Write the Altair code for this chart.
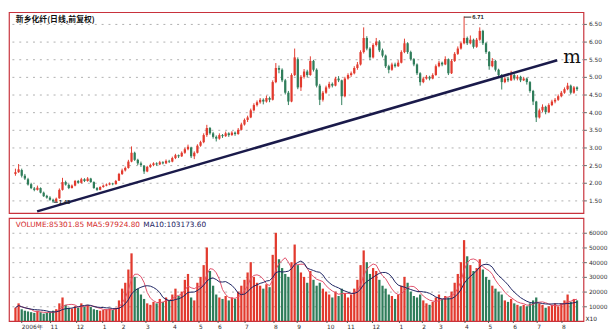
import altair as alt
import pandas as pd

# ---------------- data ----------------
opens = [2.25,2.30,2.36,2.20,2.10,1.96,1.84,1.80,1.85,1.72,1.63,1.58,1.52,1.47,1.56,1.80,2.02,1.94,1.85,1.92,
         2.05,2.00,2.10,2.05,2.12,2.02,1.85,1.80,1.88,1.92,1.95,1.98,1.96,2.06,2.25,2.35,2.42,2.60,2.85,2.65,
         2.55,2.48,2.32,2.45,2.50,2.55,2.52,2.58,2.55,2.62,2.60,2.70,2.78,2.75,2.85,2.95,3.00,2.75,2.85,3.05,
         3.15,3.35,3.55,3.40,3.30,3.25,3.35,3.32,3.40,3.35,3.42,3.38,3.50,3.65,3.78,3.85,4.05,4.20,4.28,4.35,
         4.30,4.40,4.35,4.85,5.25,5.20,4.90,4.55,4.30,5.05,5.50,4.70,5.00,5.15,5.05,5.45,5.20,4.75,4.35,4.55,
         4.70,4.80,4.75,4.95,4.90,4.45,4.95,5.05,5.10,5.25,5.35,5.70,6.10,5.80,5.55,5.90,6.00,5.75,5.60,5.30,
         5.20,5.35,5.30,5.40,5.70,5.95,5.70,5.50,5.35,5.10,4.85,4.95,5.00,4.95,5.05,5.30,5.40,5.35,5.50,5.10,
         5.45,5.65,5.80,5.95,6.10,5.95,6.05,5.85,6.05,6.30,5.95,5.70,5.30,5.45,5.20,5.05,4.85,4.95,4.90,5.05,
         4.95,5.00,4.90,4.95,4.85,4.60,4.30,3.85,4.05,4.15,4.00,4.20,4.30,4.35,4.45,4.55,4.65,4.75,4.55,4.70]
highs = [2.40,2.53,2.40,2.25,2.14,2.00,1.88,1.92,1.87,1.75,1.66,1.62,1.55,1.58,1.84,2.14,2.06,1.97,1.95,2.08,
         2.08,2.14,2.13,2.16,2.14,2.04,1.88,1.90,1.95,1.98,2.01,2.00,2.08,2.28,2.40,2.46,2.65,3.03,2.88,2.68,
         2.60,2.50,2.48,2.54,2.58,2.58,2.62,2.61,2.66,2.65,2.74,2.82,2.80,2.89,2.99,3.08,3.02,2.89,3.09,3.19,
         3.40,3.64,3.58,3.44,3.34,3.40,3.38,3.45,3.43,3.46,3.45,3.55,3.70,3.82,3.90,4.10,4.25,4.33,4.40,4.39,
         4.47,4.44,4.90,5.39,5.32,5.24,4.94,4.60,5.10,5.80,5.55,5.05,5.22,5.20,5.58,5.48,5.24,4.80,4.60,4.75,
         4.86,4.84,5.00,5.02,4.92,5.00,5.10,5.15,5.30,5.42,5.75,6.40,6.15,5.84,5.95,6.10,6.04,5.80,5.63,5.34,
         5.40,5.40,5.47,5.75,6.08,5.98,5.74,5.53,5.38,5.13,5.00,5.05,5.03,5.10,5.35,5.45,5.43,5.58,5.52,5.50,
         5.70,5.86,6.00,6.71,6.14,6.17,6.08,6.10,6.40,6.33,5.98,5.73,5.53,5.48,5.23,5.08,5.00,5.00,5.17,5.08,
         5.05,5.03,5.00,4.98,4.88,4.63,4.32,4.10,4.22,4.18,4.25,4.35,4.40,4.50,4.60,4.70,4.83,4.78,4.74,4.73]
lows = [2.20,2.28,2.15,2.08,1.92,1.82,1.76,1.78,1.70,1.60,1.55,1.49,1.43,1.46,1.55,1.78,1.92,1.82,1.84,1.90,
        1.97,1.98,2.02,2.03,2.00,1.83,1.77,1.79,1.86,1.90,1.93,1.93,1.95,2.05,2.22,2.32,2.40,2.58,2.62,2.50,
        2.45,2.25,2.30,2.42,2.47,2.48,2.50,2.52,2.53,2.56,2.58,2.67,2.70,2.73,2.82,2.92,2.70,2.67,2.83,3.02,
        3.12,3.30,3.36,3.25,3.17,3.22,3.27,3.30,3.30,3.33,3.33,3.36,3.48,3.62,3.72,3.83,4.02,4.16,4.24,4.22,
        4.27,4.28,4.33,4.82,5.10,4.85,4.50,4.20,4.28,5.02,4.65,4.60,4.95,4.98,5.03,5.15,4.70,4.20,4.30,4.52,
        4.66,4.70,4.73,4.85,4.20,4.42,4.92,5.00,5.07,5.20,5.32,5.66,5.75,5.47,5.52,5.86,5.70,5.55,5.25,5.10,
        5.17,5.26,5.28,5.38,5.67,5.65,5.46,5.30,5.05,4.75,4.82,4.92,4.90,4.93,5.03,5.27,5.30,5.33,5.05,5.08,
        5.42,5.62,5.77,5.92,5.90,5.92,5.80,5.82,6.02,5.90,5.65,5.20,5.27,5.15,5.00,4.64,4.82,4.85,4.88,4.90,
        4.90,4.85,4.88,4.78,4.55,4.20,3.72,3.82,4.00,3.94,3.98,4.17,4.25,4.32,4.42,4.52,4.62,4.50,4.52,4.60]
closes = [2.30,2.38,2.20,2.12,1.95,1.85,1.80,1.86,1.72,1.62,1.58,1.52,1.47,1.55,1.80,2.02,1.95,1.85,1.92,2.05,
          2.00,2.10,2.05,2.12,2.02,1.85,1.80,1.88,1.92,1.95,1.98,1.96,2.05,2.25,2.35,2.42,2.60,2.85,2.65,2.55,
          2.50,2.32,2.45,2.50,2.55,2.52,2.58,2.55,2.62,2.60,2.70,2.78,2.75,2.85,2.95,3.02,2.75,2.85,3.05,3.15,
          3.35,3.55,3.40,3.30,3.25,3.35,3.32,3.40,3.35,3.42,3.38,3.50,3.65,3.78,3.85,4.05,4.20,4.28,4.35,4.30,
          4.40,4.35,4.85,5.25,5.20,4.90,4.55,4.30,5.05,5.55,4.70,5.00,5.15,5.05,5.45,5.20,4.75,4.35,4.55,4.70,
          4.80,4.75,4.95,4.90,4.45,4.95,5.05,5.10,5.25,5.35,5.70,6.10,5.80,5.55,5.90,6.00,5.75,5.60,5.30,5.20,
          5.35,5.30,5.40,5.70,5.95,5.70,5.50,5.35,5.10,4.85,4.95,5.00,4.95,5.05,5.30,5.40,5.35,5.50,5.10,5.45,
          5.65,5.80,5.95,6.10,5.95,6.05,5.85,6.05,6.30,5.95,5.70,5.30,5.45,5.20,5.05,4.85,4.95,4.90,5.05,4.95,
          5.00,4.90,4.95,4.85,4.60,4.30,3.85,4.05,4.15,4.00,4.20,4.30,4.35,4.45,4.55,4.65,4.75,4.55,4.70,4.65]
volumes = [9000,12000,8000,7000,6500,6000,5500,7000,6000,5000,
           5500,6000,7000,8000,12000,16000,11000,9000,8500,10000,
           9000,12000,10000,11000,9500,8000,7500,7000,7500,8000,
           8500,7500,9000,14000,22000,26000,35000,46000,30000,22000,
           18000,15000,12000,11000,13000,12000,15000,13000,16000,14000,
           18000,22000,17000,20000,28000,32000,16000,14000,26000,30000,
           38000,50000,34000,24000,18000,16000,15000,17000,14000,16000,
           15000,20000,24000,28000,33000,40000,30000,26000,24000,22000,
           25000,23000,45000,60000,42000,36000,32000,30000,40000,52000,
           38000,33000,30000,26000,34000,28000,24000,26000,22000,20000,
           18000,16000,20000,17000,22000,19000,16000,18000,22000,28000,
           38000,48000,40000,32000,36000,34000,28000,24000,22000,18000,
           17000,15000,18000,24000,30000,26000,20000,17000,16000,18000,
           14000,12000,11000,13000,16000,18000,15000,17000,16000,20000,
           26000,32000,40000,55000,44000,38000,34000,36000,42000,35000,
           30000,28000,24000,22000,20000,18000,14000,13000,15000,12000,
           11000,10000,11000,10000,12000,14000,16000,12000,11000,9000,
           10000,11000,12000,10000,12000,14000,18000,13000,15000,14000]

month_pos = [2.0, 11.2, 19.5, 27.8, 33.9, 41.6, 50.2, 58.5, 64.6, 73.2, 82.4, 89.8,
             99.3, 105.8, 113.8, 122.4, 129.7, 135.0, 143.3, 150.8, 158.7, 166.3, 174.2]
month_lbl = ["2006年", "11", "12", "1", "2", "3", "4", "5", "6", "7", "8", "9",
             "10", "11", "12", "1", "2", "3", "4", "5", "6", "7", "8"]

price_ticks = [1.5, 2.0, 2.5, 3.0, 3.5, 4.0, 4.5, 5.0, 5.5, 6.0, 6.5]
vol_ticks = [10000, 20000, 30000, 40000, 50000, 60000]

trend_i = [6.9, 172.7]
trend_p = [1.19, 5.47]

title_txt = "新乡化纤(日线,前复权)"
vol_legend = ["VOLUME:85301.85", "MA5:97924.80", "MA10:103173.60"]
vol_legend_x = [7, 79, 137]
vol_legend_col = ["#d42a2a", "#d42a2a", "#1c2260"]

# ---------------- chart ----------------
RED = "#e23a2e"
GREEN = "#2f7d5a"
FRAME = "#c8323c"
N = len(closes)
W, HP, HV = 586, 205, 105

df = pd.DataFrame({"i": list(range(N)), "o": opens, "h": highs, "l": lows, "c": closes, "v": volumes})

xs = alt.Scale(domain=[-0.5, N - 0.5], nice=False, zero=False)
ys = alt.Scale(domain=[1.14, 6.83], nice=False, zero=False)
vs = alt.Scale(domain=[0, 70000], nice=False, zero=False)
col = alt.condition("datum.c >= datum.o", alt.value(RED), alt.value(GREEN))


def raxis(vals, fmt):
    return alt.Axis(orient="right", values=vals, format=fmt, title=None,
                    labelFontSize=6, labelFont="DejaVu Sans", labelColor="#333",
                    labelOverlap=False, labelBound=False, labelFlush=False,
                    tickSize=3, tickColor="#666", labelPadding=2, domain=False,
                    grid=True, gridDash=[2, 5], gridColor="#9a9a9a", gridWidth=0.8)


PAX = raxis(price_ticks, ".2f")
VAX = raxis(vol_ticks, "d")
NOX = alt.Axis(labels=False, ticks=False, domain=False, grid=False, title=None)

base = alt.Chart(df).encode(x=alt.X("i:Q", scale=xs, axis=NOX))
wick = base.mark_rule(strokeWidth=1).encode(
    y=alt.Y("l:Q", scale=ys, axis=PAX), y2="h:Q", color=col)
body = base.mark_bar(width=2.3).encode(y=alt.Y("o:Q", scale=ys, axis=PAX), y2="c:Q", color=col)

tdf = pd.DataFrame({"i": trend_i, "p": trend_p})
trend = alt.Chart(tdf).mark_line(color="#1a1a4a", strokeWidth=2.6).encode(
    x=alt.X("i:Q", scale=xs, axis=NOX), y=alt.Y("p:Q", scale=ys, axis=PAX))

m_lbl = alt.Chart(pd.DataFrame({"i": [174.6], "p": [5.55], "t": ["m"]})).mark_text(
    align="left", baseline="middle", fontSize=19, font="DejaVu Serif", color="#111").encode(
    x=alt.X("i:Q", scale=xs, axis=NOX), y=alt.Y("p:Q", scale=ys, axis=PAX), text="t:N")

hi_df = pd.DataFrame({"i": [143.0], "i2": [145.3], "p": [6.69], "t": ["6.71"]})
hi_line = alt.Chart(hi_df).mark_rule(color="#222", strokeWidth=1).encode(
    x=alt.X("i:Q", scale=xs, axis=NOX), x2="i2:Q", y=alt.Y("p:Q", scale=ys, axis=PAX))
hi_txt = alt.Chart(hi_df).mark_text(align="left", baseline="middle", fontSize=6,
                                    fontWeight="bold", dx=1, color="#222").encode(
    x=alt.X("i2:Q", scale=xs, axis=NOX), y=alt.Y("p:Q", scale=ys, axis=PAX), text="t:N")

lo_df = pd.DataFrame({"i": [12.3], "i2": [13.5], "p": [1.45], "t": ["1.43"]})
lo_line = alt.Chart(lo_df).mark_rule(color="#222", strokeWidth=1).encode(
    x=alt.X("i:Q", scale=xs, axis=NOX), x2="i2:Q", y=alt.Y("p:Q", scale=ys, axis=PAX))
lo_txt = alt.Chart(lo_df).mark_text(align="left", baseline="middle", fontSize=6,
                                    fontWeight="bold", dx=1, color="#222").encode(
    x=alt.X("i2:Q", scale=xs, axis=NOX), y=alt.Y("p:Q", scale=ys, axis=PAX), text="t:N")

title = alt.Chart(pd.DataFrame({"t": [title_txt]})).mark_text(
    align="left", baseline="middle", fontSize=8, fontWeight="bold",
    font="Noto Sans CJK SC", color="#111").encode(
    x=alt.value(7), y=alt.value(8), text="t:N")

price = alt.layer(wick, body, trend, m_lbl, hi_line, hi_txt, lo_line, lo_txt, title).properties(
    width=W, height=HP)

# volume panel
vbase = alt.Chart(df).encode(x=alt.X("i:Q", scale=xs, axis=NOX))
vbars = vbase.mark_bar(width=2.3).encode(
    y=alt.Y("v:Q", scale=vs, axis=VAX), y2=alt.datum(0), color=col)
ma = vbase.transform_window(
    ma5="mean(v)", frame=[-4, 0]).transform_window(
    ma10="mean(v)", frame=[-9, 0])
ma5 = ma.mark_line(color="#e0506a", strokeWidth=1).encode(y=alt.Y("ma5:Q", scale=vs, axis=VAX))
ma10 = ma.mark_line(color="#1c2260", strokeWidth=1).encode(y=alt.Y("ma10:Q", scale=vs, axis=VAX))

leg_df = pd.DataFrame({"t": vol_legend, "x": vol_legend_x, "c": vol_legend_col})
legend = alt.Chart(leg_df).mark_text(align="left", baseline="middle", fontSize=7.5,
                                     font="DejaVu Sans").encode(
    x=alt.X("x:Q", scale=None), y=alt.value(7), text="t:N",
    color=alt.Color("c:N", scale=None, legend=None))

mdf = pd.DataFrame({"pos": month_pos, "lbl": month_lbl})
mtxt = alt.Chart(mdf).mark_text(align="left", baseline="top", fontSize=6, dy=3,
                                font="DejaVu Sans", color="#333").encode(
    x=alt.X("pos:Q", scale=xs, axis=NOX), y=alt.value(HV), text="lbl:N")
mtick = alt.Chart(mdf).mark_rule(color="#555").encode(
    x=alt.X("pos:Q", scale=xs, axis=NOX), y=alt.value(HV), y2=alt.value(HV + 2))

x10 = alt.Chart(pd.DataFrame({"t": ["X10"]})).mark_text(
    align="left", baseline="bottom", fontSize=6, font="DejaVu Sans", color="#222").encode(
    x=alt.value(W + 2), y=alt.value(HV + 1), text="t:N")

volume = alt.layer(vbars, ma5, ma10, legend, mtxt, mtick, x10).properties(width=W, height=HV)

chart = alt.vconcat(price, volume, spacing=0, background="white").resolve_scale(
    y="independent", x="shared").properties(
    padding={"left": 0, "top": 0, "right": 0, "bottom": 0}
).configure_view(stroke=FRAME, strokeWidth=1.2)

chart.save("out.html", embed_options={"renderer": "svg", "actions": False})
